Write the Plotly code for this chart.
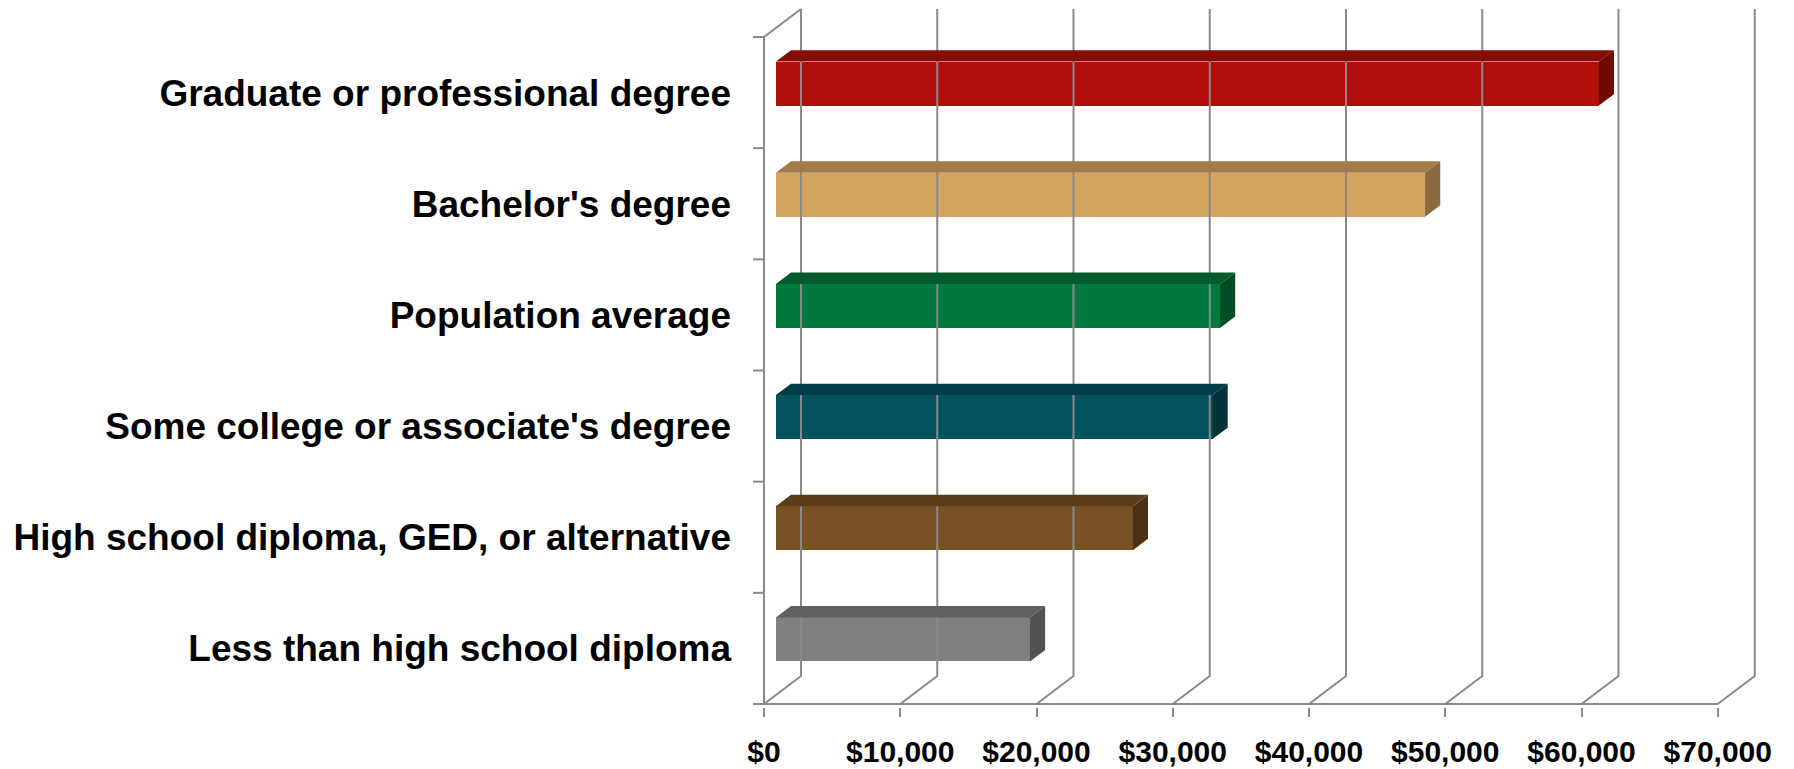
import plotly.graph_objects as go

# data, bottom to top as drawn
categories = ["Less than high school diploma",
              "High school diploma, GED, or alternative",
              "Some college or associate's degree",
              "Population average",
              "Bachelor's degree",
              "Graduate or professional degree"]
earnings = [18650, 26200, 32050, 32600, 47650, 60400]
front_colors = ["#808080", "#785223", "#02535F", "#007A3C", "#D4A460", "#B01009"]
top_colors = ["#606060", "#5C3D1A", "#023E47", "#005C2D", "#A27D4B", "#870D03"]
side_colors = ["#525252", "#4B3215", "#01333A", "#004D25", "#8A6A3E", "#6E0A02"]
tick_values = list(range(0, 70001, 10000))
tick_labels = ["$" + format(v, ",") for v in tick_values]

# page / 3d projection setup (pixels); the page body adds an 8px margin
W, H, OFF = 1794, 769, 8
FW, FH = W - 2 * OFF, H - OFF
PLOT_L, PLOT_R, PLOT_T, PLOT_B = 750, 1774, 8, 707   # plot area in screen px
KX = 136.25 / 10000          # px per dollar
KY = 667 / 6                 # px per category slot
DX, DY = 37 / KX, 28 / KY    # depth offset of the back wall
F1, F2 = 0.32, 0.73          # bar front / back position in the depth
BAR_H = 44 / KY
GRID = "#898989"

x0 = -(764 - PLOT_L) / KX
x_range = [x0, x0 + (PLOT_R - PLOT_L) / KX]
y0 = -(PLOT_B - 704) / KY
y_range = [y0, y0 + (PLOT_B - PLOT_T) / KY]

fig = go.Figure()

# walls: back gridlines, floor diagonals, front floor line, left edge
n = len(categories)
gx, gy = [], []
for v in tick_values:
    gx += [v, v + DX, v + DX, None]
    gy += [0, DY, n + DY, None]
gx += [0, tick_values[-1], None, 0, 0, DX, None]
gy += [0, 0, None, 0, n, n + DY, None]
for i in range(n + 1):
    gx += [-11 / KX, 0, None]
    gy += [i, i, None]
fig.add_trace(go.Scatter(x=gx, y=gy, mode="lines", line=dict(color=GRID, width=2),
                         hoverinfo="skip", showlegend=False))

# bars: front face as a bar, top and side faces as filled polygons
base = F1 * DX
ddx, ddy = (F2 - F1) * DX, (F2 - F1) * DY
yc = [i + 0.5 + F1 * DY for i in range(n)]
fig.add_trace(go.Bar(y=yc, x=earnings, base=base, width=BAR_H, orientation="h",
                     marker=dict(color=front_colors, line=dict(width=0)),
                     showlegend=False, hoverinfo="skip"))
for c, v, tc, sc in zip(yc, earnings, top_colors, side_colors):
    yt, yb = c + BAR_H / 2, c - BAR_H / 2
    x1 = base + v
    fig.add_trace(go.Scatter(x=[base, x1, x1 + ddx, base + ddx, base],
                             y=[yt, yt, yt + ddy, yt + ddy, yt],
                             fill="toself", fillcolor=tc, mode="lines",
                             line=dict(width=0, color=tc),
                             hoverinfo="skip", showlegend=False))
    fig.add_trace(go.Scatter(x=[x1, x1 + ddx, x1 + ddx, x1, x1],
                             y=[yt, yt + ddy, yb + ddy, yb, yt],
                             fill="toself", fillcolor=sc, mode="lines",
                             line=dict(width=0, color=sc),
                             hoverinfo="skip", showlegend=False))

fig.update_xaxes(range=x_range, tickvals=tick_values, ticktext=tick_labels,
                 ticks="outside", ticklen=9, tickwidth=2, tickcolor=GRID,
                 ticklabelstandoff=9, automargin=False,
                 tickfont=dict(family="Arial, Liberation Sans", size=30, color="black", weight="bold"),
                 showgrid=False, zeroline=False, showline=False, fixedrange=True)
fig.update_yaxes(range=y_range, tickvals=[i + 0.5 for i in range(n)],
                 ticktext=categories, ticks="", ticklabelstandoff=18, automargin=False,
                 tickfont=dict(family="Arial, Liberation Sans", size=37, color="black", weight="bold"),
                 showgrid=False, zeroline=False, showline=False, fixedrange=True)
fig.update_layout(width=FW, height=FH,
                  margin=dict(l=PLOT_L - OFF, r=FW - (PLOT_R - OFF), t=PLOT_T - OFF, b=FH - (PLOT_B - OFF)),
                  plot_bgcolor="white", paper_bgcolor="white", bargap=0)

fig.write_html("out.html")
